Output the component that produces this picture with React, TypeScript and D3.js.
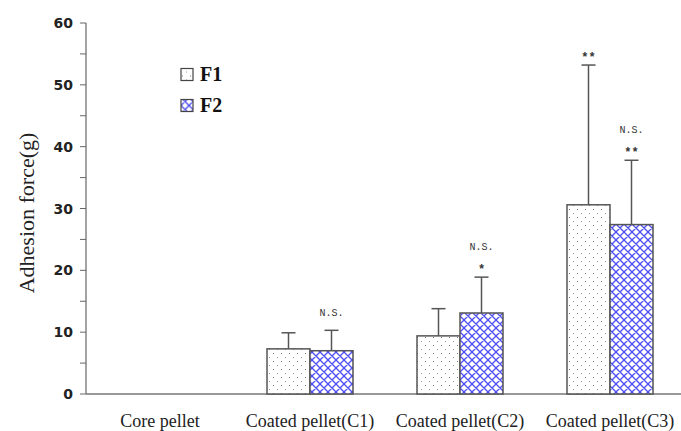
import React, { useEffect, useRef } from 'react'
import * as d3 from 'd3'

const categories = ['Core pellet', 'Coated pellet(C1)', 'Coated pellet(C2)', 'Coated pellet(C3)']
const seriesNames = ['F1', 'F2']
const f1Values = [null, 7.3, 9.4, 30.6]
const f2Values = [null, 7.0, 13.1, 27.4]
const f1Errors = [null, 2.6, 4.4, 22.6]
const f2Errors = [null, 3.3, 5.8, 10.4]
const f1Marks = ['', '', '', '**']
const f2Marks = ['', 'N.S.', 'N.S.|*', 'N.S.|**']
const yTicks = [0, 10, 20, 30, 40, 50, 60]

const W = 681
const H = 431

export default function App() {
  const ref = useRef<SVGSVGElement>(null)

  useEffect(() => {
    const svg = d3.select(ref.current)
    svg.selectAll('*').remove()

    const axisX = 86
    const y = d3.scaleLinear().domain([0, 60]).range([394, 23])
    const x = d3.scaleBand().domain(categories).range([85, 685]).paddingInner(0).paddingOuter(0)
    const barW = 43

    const defs = svg.append('defs')
    const dots = defs.append('pattern')
      .attr('id', 'dots').attr('patternUnits', 'userSpaceOnUse')
      .attr('width', 8).attr('height', 8)
    dots.append('rect').attr('width', 8).attr('height', 8).attr('fill', '#fff')
    dots.append('rect').attr('x', 1).attr('y', 1).attr('width', 1).attr('height', 1).attr('fill', '#777')
    dots.append('rect').attr('x', 5).attr('y', 5).attr('width', 1).attr('height', 1).attr('fill', '#999')

    const hatch = defs.append('pattern')
      .attr('id', 'hatch').attr('patternUnits', 'userSpaceOnUse')
      .attr('width', 8).attr('height', 8)
    hatch.append('rect').attr('width', 8).attr('height', 8).attr('fill', '#fff')
    hatch.append('path').attr('d', 'M0,0 L8,8 M8,0 L0,8 M-1,7 L1,9 M7,-1 L9,1 M-1,1 L1,-1 M7,9 L9,7')
      .attr('stroke', '#4d4df2').attr('stroke-width', 1.3).attr('fill', 'none')

    // y axis
    const yAxis = svg.append('g').attr('transform', `translate(${axisX},0)`)
    yAxis.append('line').attr('x1', 0).attr('x2', 0).attr('y1', y(60)).attr('y2', y(0))
      .attr('stroke', '#666').attr('stroke-width', 1.2)
    d3.range(0, 61, 5).forEach(v => {
      yAxis.append('line').attr('x1', -6).attr('x2', 0).attr('y1', y(v)).attr('y2', y(v))
        .attr('stroke', '#666').attr('stroke-width', 1)
    })
    yAxis.selectAll('text.tick').data(yTicks).enter().append('text')
      .attr('x', -13).attr('y', d => y(d)).attr('dy', '0.36em')
      .attr('text-anchor', 'end')
      .attr('font-family', 'DejaVu Sans, Verdana, sans-serif')
      .attr('font-weight', 'bold').attr('font-size', 14)
      .attr('fill', '#222')
      .text(d => String(d))

    svg.append('text')
      .attr('transform', `translate(34,213) rotate(-90)`)
      .attr('text-anchor', 'middle')
      .attr('font-family', 'Liberation Serif, Times New Roman, serif')
      .attr('font-size', 22).attr('fill', '#222')
      .text('Adhesion force(g)')

    // x axis
    svg.append('line').attr('x1', axisX).attr('x2', W).attr('y1', y(0)).attr('y2', y(0))
      .attr('stroke', '#777').attr('stroke-width', 1.5)

    svg.selectAll('text.cat').data(categories).enter().append('text')
      .attr('x', d => x(d)! + x.bandwidth() / 2)
      .attr('y', 427)
      .attr('text-anchor', 'middle')
      .attr('font-family', 'Liberation Serif, Times New Roman, serif')
      .attr('font-size', 18).attr('fill', '#222')
      .text(d => d)

    const series = [
      { vals: f1Values, errs: f1Errors, marks: f1Marks, fill: 'url(#dots)', off: -barW },
      { vals: f2Values, errs: f2Errors, marks: f2Marks, fill: 'url(#hatch)', off: 0 },
    ]

    series.forEach(s => {
      categories.forEach((c, i) => {
        const v = s.vals[i]
        if (v == null) return
        const cx = x(c)! + x.bandwidth() / 2
        const x0 = cx + s.off
        const mid = x0 + barW / 2
        const e = s.errs[i] as number
        const top = y(v + e)
        svg.append('line').attr('x1', mid).attr('x2', mid).attr('y1', y(v)).attr('y2', top)
          .attr('stroke', '#555').attr('stroke-width', 1.5)
        svg.append('line').attr('x1', mid - 7).attr('x2', mid + 7).attr('y1', top).attr('y2', top)
          .attr('stroke', '#555').attr('stroke-width', 1.5)
        svg.append('rect').attr('x', x0).attr('y', y(v)).attr('width', barW).attr('height', y(0) - y(v))
          .attr('fill', s.fill).attr('stroke', '#555').attr('stroke-width', 1.5)

        const m = s.marks[i]
        if (!m) return
        const parts = m.split('|')
        const hasStar = parts.some(p => p.includes('*'))
        parts.forEach(p => {
          const isStar = p.includes('*')
          const base = isStar ? top - 4 : (hasStar ? top - 27 : top - 14)
          svg.append('text')
            .attr('x', mid).attr('y', base)
            .attr('text-anchor', 'middle')
            .attr('font-family', 'Liberation Mono, DejaVu Sans Mono, monospace')
            .attr('font-size', isStar ? 12 : 10).attr('fill', '#333')
            .attr('font-weight', isStar ? 'bold' : 'normal')
            .text(p)
        })
      })
    })

    // legend
    const legend = svg.append('g').attr('transform', 'translate(181,74.5)')
    seriesNames.forEach((n, i) => {
      const g = legend.append('g').attr('transform', `translate(0,${i * 31})`)
      g.append('rect').attr('x', 0).attr('y', -6).attr('width', 12).attr('height', 12)
        .attr('fill', i === 0 ? 'url(#dots)' : 'url(#hatch)').attr('stroke', '#444').attr('stroke-width', 1.2)
      g.append('text').attr('x', 19).attr('y', 6.5)
        .attr('font-family', 'Liberation Serif, Times New Roman, serif')
        .attr('font-weight', 'bold').attr('font-size', 20).attr('fill', '#111')
        .text(n)
    })
  }, [])

  return (
    <svg ref={ref} width={W} height={H}
      style={{ position: 'absolute', left: 0, top: 0, background: '#fff' }} />
  )
}
